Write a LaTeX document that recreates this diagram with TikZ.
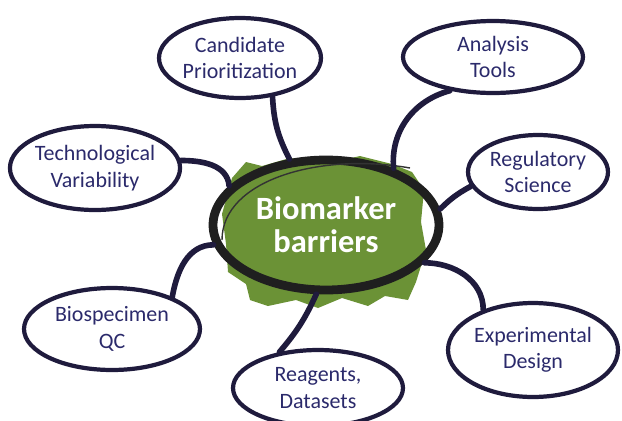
\documentclass[tikz,border=0pt]{standalone}
\usepackage{fontspec}
\setmainfont{Carlito}
\usetikzlibrary{shapes.geometric}
\definecolor{NAVY}{HTML}{2B2A6B}
\definecolor{INK}{HTML}{1F1B3D}
\definecolor{PAINT}{HTML}{6B9236}
\tikzset{
	every node/.style = {font=\fontsize{12.5}{15}\selectfont},
	bubble/.style = {ellipse, draw=INK, line width=2.4pt, text=NAVY, align=center, inner sep=0pt},
	stroke/.style = {INK, line width=3.2pt, line cap=round}
}

\begin{document}
\begin{tikzpicture}[x=0.02cm, y=-0.02cm]
		\useasboundingbox (0,0) rectangle (622,420);
		% green paint
		\fill[PAINT] (232,178) -- (246,162) -- (262,166) -- (290,158) -- (330,163)
		      -- (360,156) -- (392,164) -- (412,172) -- (424,190) -- (421,222)
		      -- (426,250) -- (416,282) -- (408,300) -- (385,296) -- (368,306)
		      -- (342,298) -- (318,308) -- (296,300) -- (268,306) -- (250,300)
		      -- (246,284) -- (228,272) -- (226,244) -- (222,214) -- cycle;
		% centre
		\node[ellipse, draw=black!88, line width=5pt, minimum width=4.52cm,
		      minimum height=2.6cm, text=white, align=center,
		      font=\fontsize{18.5}{19}\selectfont\bfseries] (bio) at (326,225)
		      {Biomarker\\barriers};
		\draw[black!80, line width=0.8pt] (222,240) .. controls (222,180) and (320,152) .. (410,168);
		% bubbles
		\node[bubble, minimum width=3.12cm, minimum height=1.6cm] (cand) at (240,58)
		      {Candidate\\Prioritization};
		\node[bubble, minimum width=3.6cm, minimum height=1.44cm] (ana) at (493,57)
		      {Analysis\\Tools};
		\node[bubble, minimum width=3.28cm, minimum height=1.68cm] (tech) at (95,168)
		      {Technological\\Variability};
		\node[bubble, minimum width=2.8cm, minimum height=1.48cm] (reg) at (538,172)
		      {Regulatory\\Science};
		\node[bubble, minimum width=3.52cm, minimum height=1.64cm] (bsp) at (112,329)
		      {Biospecimen\\QC};
		\node[bubble, minimum width=3.4cm, minimum height=1.88cm] (exp) at (533,350)
		      {Experimental\\Design};
		\node[bubble, minimum width=3.4cm, minimum height=1.52cm] (reag) at (318,388)
		      {Reagents,\\Datasets};
		% connectors
		\draw[stroke] (bio.119) to[bend left=12] (cand.-50);
		\draw[stroke] (bio.40) to[out=95, in=195] (ana.218);
		\draw[stroke] (bio.8) to[bend left=8] (reg.192);
		\draw[stroke] (bio.158) to[out=95, in=0] (tech.5);
		\draw[stroke] (bio.190) to[out=180, in=80] (bsp.28);
		\draw[stroke] (bio.262) to[bend left=8] (reag.137);
		\draw[stroke] (bio.-21) to[out=0, in=90] (exp.141);
\end{tikzpicture}
\end{document}
